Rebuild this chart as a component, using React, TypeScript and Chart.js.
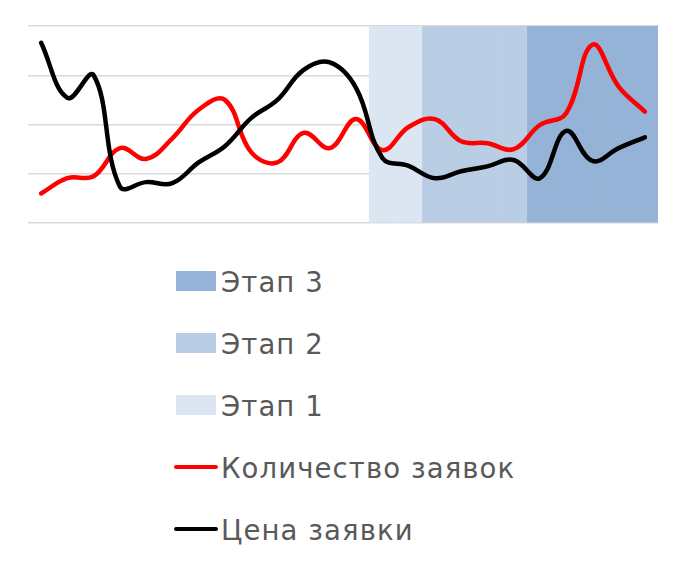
import React, { useEffect, useRef } from "react";
import { Chart, registerables } from "chart.js";

Chart.register(...registerables);

const categories: string[] = Array.from({ length: 24 }, (_, i) => String(i + 1));

const priceValues: number[] = [
  3.66, 2.54, 3.0, 0.74, 0.83, 0.81, 1.23, 1.56, 2.13, 2.5, 3.11, 3.26,
  2.74, 1.32, 1.16, 0.91, 1.05, 1.15, 1.28, 0.91, 1.87, 1.26, 1.52, 1.74,
];

const countValues: number[] = [
  0.6, 0.91, 0.95, 1.52, 1.3, 1.72, 2.3, 2.5, 1.44, 1.23, 1.83, 1.52,
  2.11, 1.48, 1.95, 2.11, 1.66, 1.62, 1.5, 1.99, 2.23, 3.62, 2.77, 2.26,
];

const N = null;
const stage1Values: (number | null)[] = [
  N, N, N, N, N, N, N, N, N, N, N, N, N, 4, 4, N, N, N, N, N, N, N, N, N,
];
const stage2Values: (number | null)[] = [
  N, N, N, N, N, N, N, N, N, N, N, N, N, N, N, 4, 4, 4, 4, N, N, N, N, N,
];
const stage3Values: (number | null)[] = [
  N, N, N, N, N, N, N, N, N, N, N, N, N, N, N, N, N, N, N, 4, 4, 4, 4, 4,
];

const legendItems = [
  { label: "Этап 3", kind: "box", color: "#95B3D7" },
  { label: "Этап 2", kind: "box", color: "#B9CDE5" },
  { label: "Этап 1", kind: "box", color: "#DCE6F2" },
  { label: "Количество заявок", kind: "line", color: "#FF0000" },
  { label: "Цена заявки", kind: "line", color: "#000000" },
];

export default function App() {
  const ref = useRef<HTMLCanvasElement | null>(null);

  useEffect(() => {
    if (!ref.current) return;
    const barCommon = {
      type: "bar" as const,
      grouped: false,
      categoryPercentage: 1,
      barPercentage: 1,
      borderWidth: 0,
      order: 3,
    };
    const chart = new Chart(ref.current, {
      type: "bar",
      data: {
        labels: categories,
        datasets: [
          { ...barCommon, label: "Этап 1", data: stage1Values, backgroundColor: "#DCE6F2" },
          { ...barCommon, label: "Этап 2", data: stage2Values, backgroundColor: "#B9CDE5" },
          { ...barCommon, label: "Этап 3", data: stage3Values, backgroundColor: "#95B3D7" },
          {
            type: "line",
            label: "Количество заявок",
            data: countValues,
            borderColor: "#FF0000",
            backgroundColor: "#FF0000",
            borderWidth: 4.5,
            pointRadius: 0,
            tension: 0.4,
            order: 2,
            borderCapStyle: "round",
          },
          {
            type: "line",
            label: "Цена заявки",
            data: priceValues,
            borderColor: "#000000",
            backgroundColor: "#000000",
            borderWidth: 4.5,
            pointRadius: 0,
            tension: 0.4,
            order: 1,
            borderCapStyle: "round",
          },
        ],
      },
      options: {
        animation: false,
        responsive: false,
        maintainAspectRatio: false,
        layout: { padding: { left: 28, right: 28, top: 26, bottom: 17 } },
        plugins: { legend: { display: false }, tooltip: { enabled: false } },
        scales: {
          x: { display: false, offset: true },
          y: {
            min: 0,
            max: 4,
            ticks: { display: false, stepSize: 1 },
            grid: { color: "#D9D9D9", lineWidth: 1.5, drawTicks: false },
            border: { display: false },
          },
        },
      },
    });
    return () => chart.destroy();
  }, []);

  return (
    <div style={{ position: "absolute", left: 0, top: 0, width: 686, height: 572, background: "#fff" }}>
      <canvas ref={ref} width={686} height={240} style={{ position: "absolute", left: 0, top: 0, width: 686, height: 240 }} />
      <div style={{ position: "absolute", left: 174, top: 251 }}>
        {legendItems.map((it) => (
          <div key={it.label} style={{ height: 62, display: "flex", alignItems: "center", position: "relative" }}>
            <div style={{ width: 44, height: 20, position: "relative", flex: "none", top: -1 }}>
              {it.kind === "box" ? (
                <div style={{ position: "absolute", left: 2, top: 0, width: 40, height: 20, background: it.color }} />
              ) : (
                <div style={{ position: "absolute", left: 0, top: 8, width: 44, height: 4, borderRadius: 2, background: it.color }} />
              )}
            </div>
            <span style={{ marginLeft: 3, fontFamily: "'DejaVu Sans', sans-serif", fontSize: 27.5, letterSpacing: "1.1px", color: "#595959", whiteSpace: "nowrap", lineHeight: "62px" }}>
              {it.label}
            </span>
          </div>
        ))}
      </div>
    </div>
  );
}
